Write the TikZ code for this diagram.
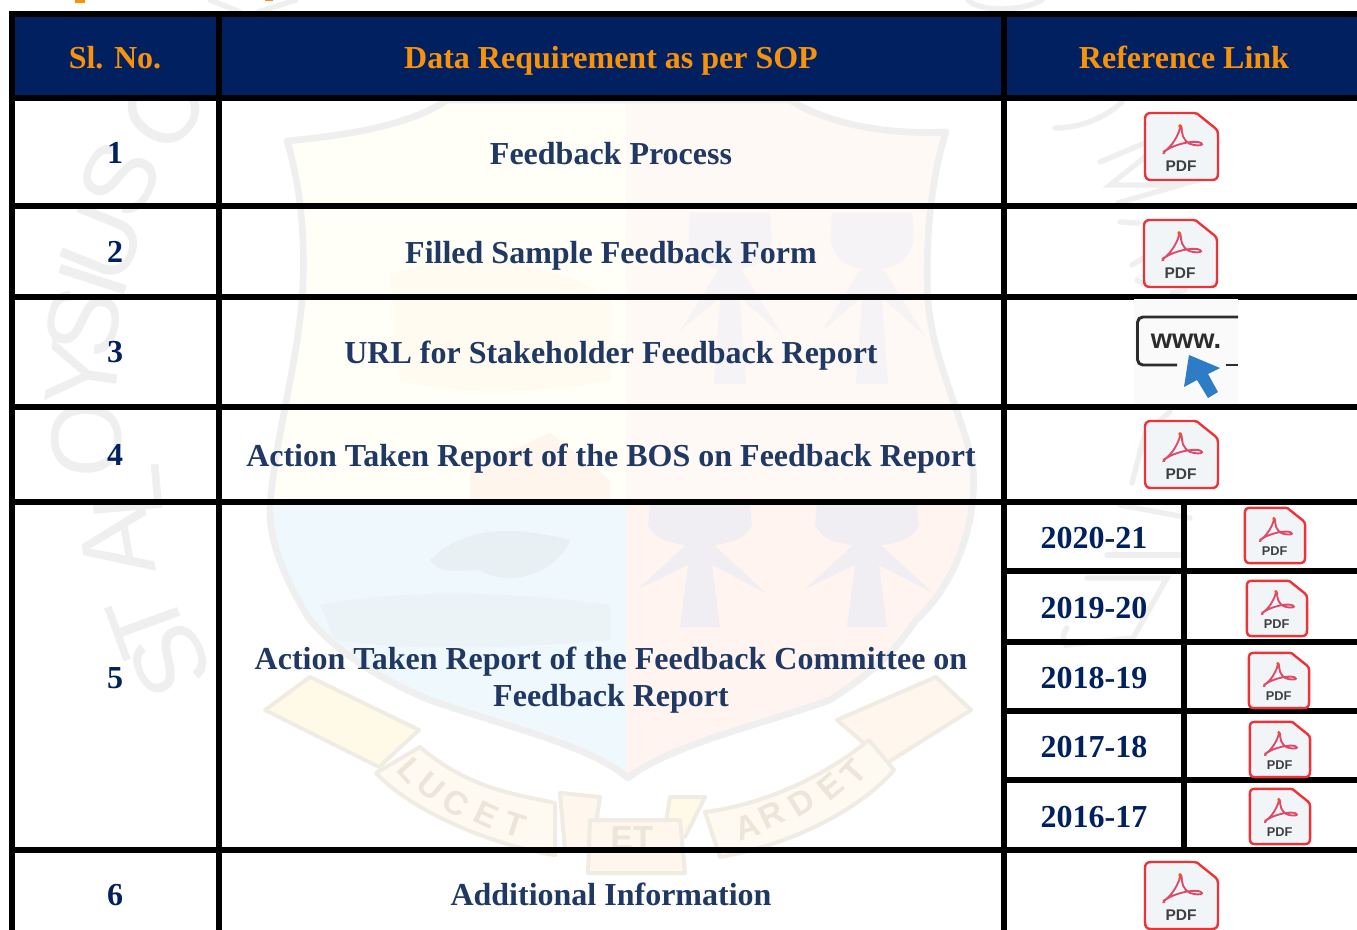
\documentclass[tikz,border=0pt]{standalone}
\usepackage{fontspec}
\setmainfont{Liberation Serif}
\setsansfont{Liberation Sans}
\definecolor{navy}{HTML}{002060}
\definecolor{ink}{HTML}{1F3864}
\definecolor{amber}{HTML}{F9920B}
\definecolor{wmgrey}{HTML}{EFEFEF}
\definecolor{pdfred}{HTML}{EE3338}
\definecolor{pdfpale}{HTML}{F2F5F7}
\definecolor{pdfink}{HTML}{3F3F42}
\definecolor{curve}{HTML}{DF4A6A}
\definecolor{arrowblue}{HTML}{2E7CC6}
\definecolor{lionc}{HTML}{F0EEF3}
\definecolor{lionb}{HTML}{F5F3F5}
\definecolor{ribbona}{HTML}{FEFAF2}
\definecolor{ribbonb}{HTML}{FFF6EE}
\definecolor{ribbonc}{HTML}{FFFAE8}
\definecolor{ribbonline}{HTML}{F1ECE3}
\definecolor{motto}{HTML}{ECE5D9}
\definecolor{quadtl}{HTML}{FFFEF7}
\definecolor{quadtr}{HTML}{FFF9F5}
\definecolor{quadbl}{HTML}{EFF8FC}
\definecolor{quadbr}{HTML}{FFF4EF}
\definecolor{tinta}{HTML}{FFFBF0}
\definecolor{tintb}{HTML}{FEF5EC}
\definecolor{tintc}{HTML}{E9F0F3}
\definecolor{tintd}{HTML}{ECF3F7}
\definecolor{wwwpale}{HTML}{FAFAFA}
\definecolor{wwwink}{HTML}{2C2C2C}
\tikzset{
  gridline/.style={line width=4.5pt,black,line cap=butt},
  headtext/.style={anchor=base,font=\bfseries\fontsize{24pt}{28pt}\selectfont,text=amber},
  rowtext/.style={anchor=base,font=\bfseries\fontsize{24pt}{28pt}\selectfont,text=ink},
  numtext/.style={anchor=base,font=\bfseries\fontsize{24pt}{28pt}\selectfont,text=navy},
  ringletter/.style={font=\sffamily\fontsize{75pt}{75pt}\selectfont,text=wmgrey,inner sep=0pt},
  ringstroke/.style={draw=wmgrey,line width=4pt,line cap=round},
  mottotext/.style={font=\sffamily\bfseries\fontsize{25pt}{25pt}\selectfont,text=motto,inner sep=0pt},
  pdflabel/.style={font=\sffamily\bfseries\fontsize{11.6pt}{12pt}\selectfont,text=pdfink,inner sep=0pt},
}
\newcommand{\pdficon}[4]{%
  \begin{scope}[shift={(#2,#3)},x=#4*0.75pt,y=-#4*0.75pt]
    \draw[draw=pdfred,fill=pdfpale,line width=1.8pt,line join=round]
      (7,1) -- (50,1) .. controls (53,1) and (54,2) .. (56,4) -- (71,16) .. controls (73,18) and (74,19) .. (74,22)
      -- (74,61) .. controls (74,66) and (72,68) .. (68,68)
      -- (7,68) .. controls (3,68) and (1,66) .. (1,61) -- (1,7) .. controls (1,3) and (3,1) .. (7,1) -- cycle;
    \draw[curve,line width=1.4pt]
      (19,40) .. controls (28,36) and (36,20) .. (36,15) .. controls (36,12) and (38,14) .. (38,20)
      .. controls (38,26) and (44,33) .. (50,33) .. controls (56,34) and (60,33) .. (57,31)
      .. controls (52,28) and (36,31) .. (26,36) .. controls (20,39) and (18,42) .. (21,41);
    \fill[orange!70!red] (36,14) circle (1.8);
    \node[pdflabel,scale=#4,transform shape] (#1) at (37,54) {PDF};
  \end{scope}}
\newcommand{\lionfig}[5]{%
  \begin{scope}[shift={(#1,#2)},x=#3*0.75pt,y=-#4*0.75pt]
    \fill[#5] (-50,0) -- (50,0) -- (52,20) .. controls (45,35) and (30,38) .. (14,40)
      -- (66,88) -- (12,60) -- (20,122) -- (-20,122) -- (-12,60) -- (-62,84) -- (-14,40)
      .. controls (-30,38) and (-45,35) .. (-52,20) -- cycle;
  \end{scope}}
\begin{document}
\begin{tikzpicture}[x=0.75pt,y=-0.75pt]
\useasboundingbox (0,0) rectangle (1357,930);
\clip (0,0) rectangle (1357,930);
\fill[white] (0,0) rectangle (1357,930);

% --- watermark: shield
\def\shieldpath{(287,141) .. controls (350,135) and (410,125) .. (447,100) -- (790,100)
  .. controls (830,125) and (890,135) .. (946,132) .. controls (930,180) and (925,250) .. (928,300)
  .. controls (932,360) and (965,420) .. (973,467) .. controls (978,530) and (950,590) .. (916,620)
  .. controls (890,660) and (860,680) .. (830,700) .. controls (760,725) and (670,745) .. (628,778)
  .. controls (590,745) and (500,725) .. (430,700) .. controls (380,680) and (335,650) .. (310,620)
  .. controls (285,580) and (268,540) .. (270,505) .. controls (275,440) and (296,370) .. (302,300)
  .. controls (306,250) and (302,190) .. (287,141) -- cycle}
\begin{scope}
  \clip \shieldpath;
  \fill[quadtl] (260,90) rectangle (626,505);
  \fill[quadtr] (626,90) rectangle (990,505);
  \fill[quadbl] (260,505) rectangle (626,790);
  \fill[quadbr] (626,505) rectangle (990,790);
  \fill[tinta] (390,275) .. controls (450,250) and (560,260) .. (610,300) -- (610,380) .. controls (540,395) and (450,395) .. (400,380) -- cycle;
  \fill[tintb] (470,470) -- (550,433) -- (610,480) -- (610,505) -- (470,505) -- cycle;
  \fill[tintc] (430,560) .. controls (470,520) and (530,530) .. (570,540) .. controls (560,570) and (510,590) .. (480,570) .. controls (460,570) and (440,575) .. (430,560) -- cycle;
  \fill[tintd] (320,605) .. controls (400,590) and (500,590) .. (610,605) -- (610,640) .. controls (500,650) and (400,650) .. (335,640) -- cycle;
  \lionfig{700}{505}{1}{1}{lionc}
  \lionfig{867}{505}{1}{1}{lionc}
  \lionfig{730}{213}{0.8}{1.4}{lionb}
  \lionfig{872}{213}{0.8}{1.4}{lionb}
\end{scope}
\draw[wmgrey,line width=5pt,line join=round] \shieldpath;

% --- watermark: ribbon
\begin{scope}[draw=ribbonline,line width=3pt,line join=round]
  \filldraw[fill=ribbonc] (265,710) -- (310,677) -- (419,730) -- (379,767) -- cycle;
  \filldraw[fill=ribbonb] (837,720) -- (936,677) -- (971,710) -- (887,763) -- cycle;
  \filldraw[fill=ribbona] (420,747) .. controls (470,790) and (520,795) .. (555,803) -- (555,855)
     .. controls (490,845) and (410,810) .. (376,773) -- cycle;
  \filldraw[fill=ribbona] (869,740) .. controls (820,780) and (760,805) .. (705,812) -- (720,857)
     .. controls (790,845) and (860,810) .. (894,770) -- cycle;
  \filldraw[fill=ribbonb] (560,793) -- (600,797) -- (592,850) -- (565,850) -- cycle;
  \filldraw[fill=ribbonc] (670,797) -- (705,797) -- (685,837) -- (664,835) -- cycle;
  \filldraw[fill=ribbonb] (590,820) -- (680,820) -- (685,873) -- (588,873) -- cycle;
\end{scope}
\node[mottotext,rotate=-48] (m1) at (411,770) {L};
\node[mottotext,rotate=-40] (m2) at (431,787) {U};
\node[mottotext,rotate=-32] (m3) at (456,803) {C};
\node[mottotext,rotate=-25] (m4) at (486,815) {E};
\node[mottotext,rotate=-18] (m5) at (515,825) {T};
\node[mottotext] (m6) at (632,838) {ET};
\node[mottotext,rotate=18] (m7) at (747,827) {A};
\node[mottotext,rotate=25] (m8) at (772,815) {R};
\node[mottotext,rotate=32] (m9) at (802,802) {D};
\node[mottotext,rotate=40] (m10) at (831,787) {E};
\node[mottotext,rotate=48] (m11) at (854,772) {T};

% --- watermark: ring letters, left
\node[ringletter,rotate=115] (r1) at (170,661) {S};
\node[ringletter,rotate=110] (r2) at (147,624) {T};
\node[ringletter,rotate=100] (r3) at (117,545) {A};
\node[ringletter,rotate=95] (r4) at (127,492) {L};
\node[ringletter,rotate=89] (r5) at (87,439) {O};
\node[ringletter,rotate=82] (r6) at (83,375) {Y};
\node[ringletter,rotate=77] (r7) at (83,322) {S};
\node[ringletter,rotate=72] (r8) at (93,280) {I};
\node[ringletter,rotate=68] (r9) at (103,243) {U};
\node[ringletter,rotate=62] (r10) at (120,179) {S};
\node[ringletter,rotate=54] (r11) at (163,110) {C};

% --- watermark: ring strokes, right and top
\draw[ringstroke] (1055,128) .. controls (1080,128) and (1105,118) .. (1122,102);
\draw[ringstroke] (1100,162) -- (1145,143);
\draw[ringstroke] (1145,157) -- (1110,185) -- (1180,185) -- (1118,203);
\draw[ringstroke] (1120,222) -- (1138,223);
\draw[ringstroke] (1132,265) -- (1145,257);
\draw[ringstroke] (1137,280) -- (1145,285);
\draw[ringstroke] (1172,293) -- (1185,290);
\draw[ringstroke] (1132,483) -- (1145,433) -- (1170,412);
\draw[ringstroke] (1120,505) -- (1190,518);
\draw[ringstroke] (1107,555) -- (1180,555);
\draw[ringstroke] (1087,578) -- (1167,578) -- (1133,638);
\draw[ringstroke] (1067,628) .. controls (1062,635) and (1062,640) .. (1066,645) -- (1133,638);
\draw[ringstroke] (210,0) -- (240,12);
\draw[ringstroke] (258,12) -- (296,0);
\draw[ringstroke] (968,0) .. controls (980,12) and (1020,12) .. (1042,0);

% --- clipped line above the table
\fill[amber] (75,0) rectangle (85,3);
\fill[amber] (265,0) rectangle (273,1.2);

% --- table
\fill[navy] (12,14) rectangle (1357,98);
\draw[gridline] (12,11) -- (12,930);
\draw[gridline] (219,14) -- (219,930);
\draw[gridline] (1004,14) -- (1004,930);
\draw[gridline] (1184,502) -- (1184,850);
\draw[gridline] (9,14) -- (1357,14);
\draw[gridline] (9,98) -- (1357,98);
\draw[gridline] (9,206) -- (1357,206);
\draw[gridline] (9,297) -- (1357,297);
\draw[gridline] (9,407) -- (1357,407);
\draw[gridline] (9,502) -- (1357,502);
\draw[gridline] (1004,571) -- (1357,571);
\draw[gridline] (1004,642) -- (1357,642);
\draw[gridline] (1004,711) -- (1357,711);
\draw[gridline] (1004,780) -- (1357,780);
\draw[gridline] (9,850) -- (1357,850);

% --- header
\node[headtext] (h1) at (115,69) {Sl. No.};
\node[headtext] (h2) at (611,69) {Data Requirement as per SOP};
\node[headtext] (h3) at (1184,69) {Reference Link};

% --- rows
\node[numtext] (n1) at (115,164) {1};
\node[numtext] (n2) at (115,263) {2};
\node[numtext] (n3) at (115,363) {3};
\node[numtext] (n4) at (115,465) {4};
\node[numtext] (n5) at (115,688) {5};
\node[numtext] (n6) at (115,905) {6};
\node[rowtext] (t1) at (611,165) {Feedback Process};
\node[rowtext] (t2) at (611,264) {Filled Sample Feedback Form};
\node[rowtext] (t3) at (611,364) {URL for Stakeholder Feedback Report};
\node[rowtext] (t4) at (611,467) {Action Taken Report of the BOS on Feedback Report};
\node[rowtext] (t5a) at (611,669) {Action Taken Report of the Feedback Committee on};
\node[rowtext] (t5b) at (611,706) {Feedback Report};
\node[rowtext] (t6) at (611,905) {Additional Information};
\node[numtext] (y1) at (1094,548) {2020-21};
\node[numtext] (y2) at (1094,618) {2019-20};
\node[numtext] (y3) at (1094,688) {2018-19};
\node[numtext] (y4) at (1094,757) {2017-18};
\node[numtext] (y5) at (1094,827) {2016-17};

% --- icons
\pdficon{p1}{1144}{112}{1}
\pdficon{p2}{1143}{219}{1}
\pdficon{p4}{1144}{420}{1}
\pdficon{p6}{1144}{861}{1}
\pdficon{s1}{1244}{507}{0.825}
\pdficon{s2}{1246}{580}{0.825}
\pdficon{s3}{1248}{652}{0.825}
\pdficon{s4}{1249}{721}{0.825}
\pdficon{s5}{1249}{788}{0.825}

% --- www icon
\fill[wwwpale] (1134,299) rectangle (1238,404);
\draw[wwwink,line width=2.2pt,line cap=butt,rounded corners=4pt]
  (1238,317) -- (1137.5,317) -- (1137.5,365) -- (1177,365);
\draw[wwwink,line width=2.2pt] (1226,365) -- (1238,365);
\node[font=\sffamily\bfseries\fontsize{20.5pt}{21pt}\selectfont,text=wwwink,inner sep=0pt,anchor=base] (www) at (1186,349) {www.};
\fill[arrowblue] (1189,355) -- (1220,368) -- (1208,374) -- (1218,392) -- (1208,398) -- (1197,380) -- (1184,387) -- cycle;
\end{tikzpicture}
\end{document}
